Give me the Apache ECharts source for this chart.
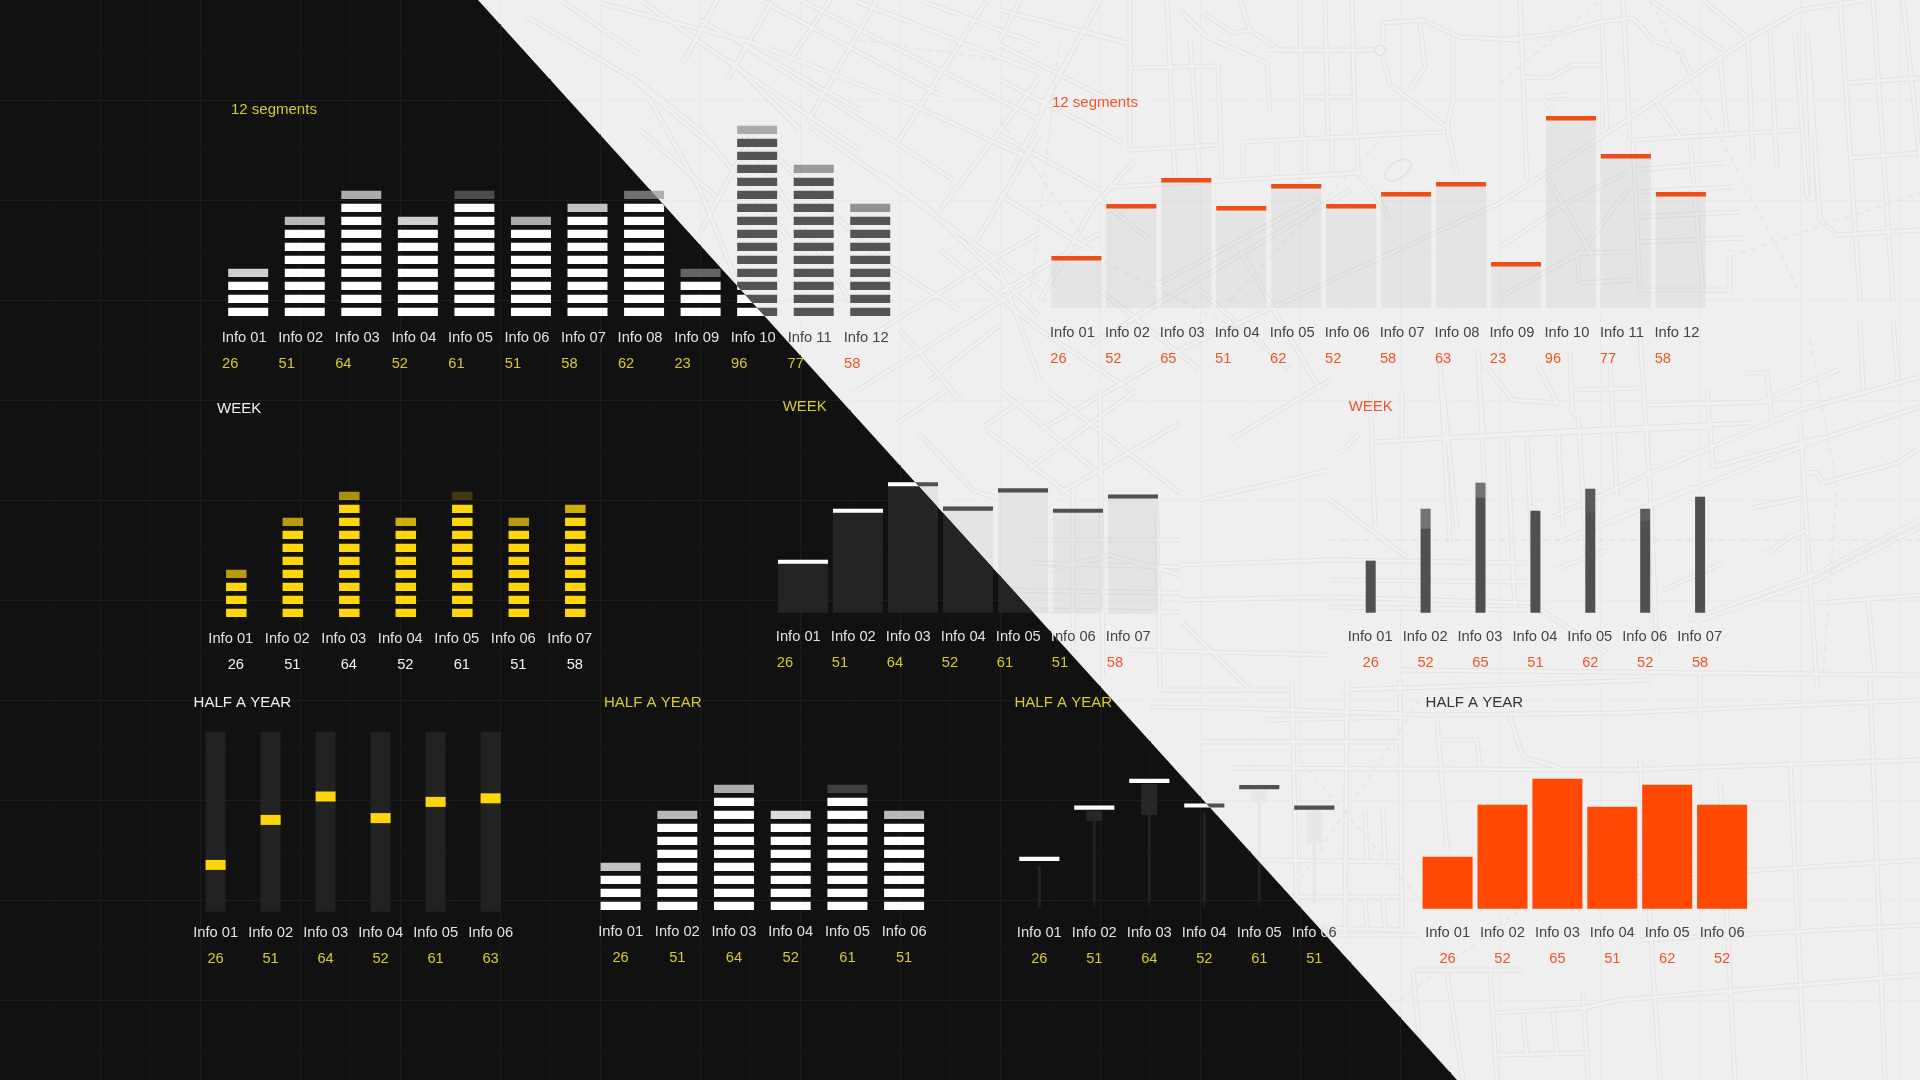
<!DOCTYPE html>
<html><head><meta charset="utf-8">
<style>html,body{margin:0;padding:0;background:#efefef}#c{width:1920px;height:1080px}</style>
<script src="https://cdn.jsdelivr.net/npm/echarts@6/dist/echarts.min.js"></script>
</head><body><div id="c"></div>
<script>
// ---------- data ----------
const labels12 = ['Info 01','Info 02','Info 03','Info 04','Info 05','Info 06','Info 07','Info 08','Info 09','Info 10','Info 11','Info 12'];
const labels7 = labels12.slice(0, 7);
const labels6 = labels12.slice(0, 6);

const darkTwelve   = [26, 51, 64, 52, 61, 51, 58, 62, 23, 96, 77, 58];
const lightTwelve  = [26, 52, 65, 51, 62, 52, 58, 63, 23, 96, 77, 58];
const yellowWeek   = [26, 51, 64, 52, 61, 51, 58];
const splitWeek    = [26, 51, 64, 52, 61, 51, 58];
const thinWeek     = [26, 52, 65, 51, 62, 52, 58];
const markerHalf   = [26, 51, 64, 52, 61, 63];
const whiteHalf    = [26, 51, 64, 52, 61, 51];
const stemHalf     = [26, 51, 64, 52, 61, 51];
const orangeHalf   = [26, 52, 65, 51, 62, 52];

// opacity of the top, partly filled segment of each column
const darkTwelveTop = [.8, .7, .65, .8, .25, .65, .75, .4, .35, .45, .55, .6];
const yellowWeekTop = [.7, .7, .65, .8, .2, .7, .8];
const whiteHalfTop  = [.75, .7, .65, .85, .2, .7];
// length (in value units) and strength of the lighter trailing part of a bar
const thinWeekTrail = [0, 10, 7.5, 0, 12, 6, 0];
const thinWeekTone  = [0, .2, .2, 0, .06, .08, 0];
const stemHalfTrail = [0, 5, 15, 0, 6, 16];

// ---------- scene ----------
const W = 1920, H = 1080;
const EDGE_TOP = 478, EDGE_BOTTOM = 1457;
const edgeX = y => EDGE_TOP + (EDGE_BOTTOM - EDGE_TOP) * y / H;
const DARK_POLY = [[0,0],[EDGE_TOP,0],[EDGE_BOTTOM,H],[0,H]];
const LIGHT_POLY = [[EDGE_TOP,0],[W,0],[W,H],[EDGE_BOTTOM,H]];
const FONT = '"Liberation Sans", Arial, sans-serif';
const YELLOW = '#d9ca2c', RED = '#ee5526', ON_DARK = '#e2e2e2', ON_LIGHT = '#444444', WHITE = '#f2f2f2';

// decorative street map behind the light half
const roads = [
 [527,17,630,77,713,147],[600,3,753,43,917,107,1033,160],[750,50,897,143,953,180],[853,0,1040,73],[920,0,1040,45],
 [810,127,913,200,997,260,1040,290],[880,173,930,210,1040,317],[683,63,717,0],[727,80,773,0],[807,123,877,0],[897,143,987,0],
 [940,210,1040,77],[977,240,1040,133],[700,233,753,133],[880,330,997,257,1040,233],[853,393,1040,277],[640,0,740,70,860,150],
 [630,75,700,130,790,240],[560,0,640,55],[1000,10,1127,43],[1000,80,1123,143],[1000,45,1110,100],[1000,135,1100,190],
 [1000,195,1090,250],[1020,0,1000,40],[1100,0,1060,75,1010,175],[1075,45,1040,110],[1135,160,1093,207,1040,300],
 [700,20,860,110],[760,0,940,95],[800,0,1040,120],[650,100,700,190,740,290],[740,130,850,300],[770,150,880,260,960,310],[940,250,1040,330],[900,330,960,400],[1000,270,1040,380],[730,60,800,130],[640,130,720,200],[790,60,830,0],
 [1130,0,1130,150],[1167,0,1175,180],[1190,40,1200,180],[1218,65,1222,180],[1130,68,1217,66],[1130,150,1220,145],
 [1110,187,1360,173],[1243,142,1443,132],[1243,142,1243,175],[1277,142,1277,175],[1305,140,1305,172],[1332,138,1332,172],[1357,136,1358,173],
 [1267,50,1377,50],[1300,0,1302,137],[1325,0,1328,137],[1352,0,1355,135],[1302,97,1353,97],[1180,10,1207,37,1267,63,1270,113],
 [1203,13,1233,33,1250,30,1240,0],[1250,30,1280,50],[1383,58,1390,85,1447,127,1457,173],[1383,42,1383,23,1423,20,1460,37,1520,40],
 [1453,37,1453,100,1447,127],[1420,23,1425,67,1410,90],[1358,173,1377,197,1390,220],[1160,283,1320,197],[1130,320,1350,190],
 [1090,345,1190,285],[1000,293,1100,233],[1040,430,1180,350,1500,203],[1500,203,1627,120,1747,40,1800,10,1867,0],[1100,290,1200,370],[1200,290,1290,370],
 [1240,250,1320,390],[1100,200,1150,240],
 [1500,40,1560,33,1600,22,1633,18,1653,40,1680,50,1690,72],[1520,0,1527,180],[1523,77,1550,78,1573,65,1600,65],[1602,20,1607,130],
 [1623,0,1630,140],[1633,140,1800,130],[1657,103,1680,137],[1650,0,1723,50],[1703,0,1747,37],[1720,57,1727,133],[1748,40,1753,163],[1770,30,1777,170],
 [1795,33,1807,197,1813,200,1807,30],[1807,30,1820,220,1837,235,1920,230],[1840,0,1860,300],[1873,0,1893,300],[1903,0,1920,160],[1845,83,1920,78],[1850,158,1920,153],
 [1633,170,1723,163],[1637,192,1733,187],[1638,217,1740,212],[1638,242,1743,238],[1633,140,1640,293],[1690,140,1703,293],[1640,290,1730,290],[1730,257,1730,293],
 [1500,247,1567,203,1627,173],[1500,297,1580,253,1630,187],[1547,177,1593,257],[1577,253,1633,252],[1580,283,1633,280],[1577,253,1580,283],[1545,97,1568,95],[1542,97,1553,110],
 [1400,440,1507,435,1710,427],[1440,363,1450,543],[1478,350,1485,500],[1507,437,1515,613],[1527,437,1532,553],[1558,433,1563,527],[1578,413,1590,613],[1610,360,1617,497],[1640,337,1650,487,1657,653],
 [1572,390,1643,388],[1648,405,1770,402],[1707,390,1713,467],[1745,373,1767,373,1772,423],[1760,402,1843,368],[1483,363,1513,400,1557,403,1537,363],[1570,353,1572,410,1578,417],
 [1553,517,1650,473,1800,410,1920,377],[1607,523,1690,490,1827,437,1920,407],[1557,543,1693,487],[1553,570,1607,550],[1713,467,1823,437],[1823,483,1897,463,1920,448],[1803,472,1817,473,1823,483],
 [1690,620,1817,573,1920,520],[1700,620,1817,580,1920,527],[1800,420,1817,687],[1860,320,1863,390],[1893,320,1898,380],[1753,508,1800,498],[1768,553,1790,537,1807,530],[1663,590,1723,563],[1818,603,1920,595],[1868,600,1875,673],[1400,670,1920,675],[1700,673,1700,720],
 [1150,707,1233,708,1433,715,1620,713,1920,700],[1267,720,1400,717],[1200,742,1400,742],[1233,768,1620,770,1920,760],[1263,860,1400,862],[1287,897,1400,897],[1290,927,1400,930],[1292,680,1297,933],[1347,680,1345,933],[1400,680,1402,933],[1437,720,1447,850],
 [1437,740,1477,740,1480,768],[1510,717,1523,757,1560,768],[1365,810,1367,863],[1383,810,1385,863],[1365,897,1367,928],[1383,897,1385,928],[1233,935,1420,935],
 [1413,970,1523,970],[1413,970,1423,1080],[1447,973,1463,1080],[1490,970,1497,1080],[1493,1013,1583,1008,1620,1000,1920,975],[1497,1055,1590,1053],[1523,1015,1527,1055],[1553,1012,1557,1055],[1583,990,1588,1080],
 [1640,760,1660,1080],[1720,780,1735,1080],[1790,760,1805,1080],[1870,680,1885,1080],[1600,880,1920,860],[1640,940,1920,925],
 [897,423,947,390],[983,427,1027,397],[987,430,1067,493],[1000,390,1103,477],[1047,390,1180,493],[1027,470,1137,390],[1060,493,1180,423],[918,433,973,490,993,497],[930,380,1000,325],[1040,330,1130,390],
 [1033,540,1180,540],[1033,563,1180,567],[993,590,1180,593],[1035,610,1180,612],[1073,490,1073,690],[1100,390,1103,677],[1157,513,1160,690],[1050,570,1110,555,1180,575],
 [1373,442,1583,430,1750,423],[1370,390,1375,527],[1402,390,1402,440],[1443,390,1457,530],[1480,390,1483,432],[1330,500,1407,557],[1330,560,1527,563],[1330,580,1527,582],[1330,597,1530,603,1607,653],[1330,607,1527,610],[1340,453,1360,433],
 [1180,600,1330,597],[1180,565,1330,560],[1180,620,1250,690],[1160,690,1290,690],[1130,650,1330,655],[1230,440,1330,380],[1200,500,1330,470],[1340,690,1650,680]
];
const dashedRoads = [
 [1500,83,1597,3],[1650,0,1800,293],[1730,257,1817,227,1920,193],[1810,340,1837,487,1823,673],[1400,540,1920,540],[1330,540,1400,540],[1000,120,1100,260,1240,330],[1230,300,1390,130],
 [1300,760,1420,900],[1420,700,1300,880],[1400,1000,1560,880],[860,40,1000,60],[1060,40,1030,300]
];

function sceneGraphics() {
  const els = [];
  const line = (x1, y1, x2, y2, stroke) => els.push({type:'line', silent:true, shape:{x1, y1, x2, y2}, style:{stroke, lineWidth:1}});
  const toPts = pts => { const out = []; for (let i = 0; i < pts.length; i += 2) out.push([pts[i], pts[i+1]]); return out; };
  for (let x = 50; x < W; x += 50) line(x + .5, 0, x + .5, H, x % 100 ? '#ececec' : '#e9e9e9');
  for (let y = 50; y < H; y += 50) line(0, y + .5, W, y + .5, y % 100 ? '#ececec' : '#e9e9e9');
  roads.forEach(pts => els.push({type:'polyline', silent:true, shape:{points:toPts(pts)}, style:{stroke:'#e3e3e3', lineWidth:5, fill:null, lineJoin:'round'}}));
  roads.forEach(pts => els.push({type:'polyline', silent:true, shape:{points:toPts(pts)}, style:{stroke:'#f0f0f0', lineWidth:3, fill:null, lineJoin:'round'}}));
  dashedRoads.forEach(pts => els.push({type:'polyline', silent:true, shape:{points:toPts(pts)}, style:{stroke:'#e5e5e5', lineWidth:1.5, lineDash:[6,5], fill:null}}));
  els.push({type:'circle', silent:true, shape:{cx:1380, cy:50, r:5}, style:{stroke:'#e3e3e3', lineWidth:2, fill:'#f0f0f0'}});
  els.push({type:'ellipse', silent:true, rotation:.6, x:1398, y:170, shape:{cx:0, cy:0, rx:15, ry:8}, style:{stroke:'#e3e3e3', lineWidth:2, fill:null}});
  els.push({type:'polygon', silent:true, shape:{points:DARK_POLY}, style:{fill:'#111111'}});
  for (let x = 50; x < EDGE_BOTTOM; x += 50) {
    const y0 = x <= EDGE_TOP ? 0 : (x - EDGE_TOP) * H / (EDGE_BOTTOM - EDGE_TOP);
    line(x + .5, y0, x + .5, H, x % 100 ? '#161616' : '#1d1d1d');
  }
  for (let y = 50; y < H; y += 50) line(0, y + .5, edgeX(y), y + .5, y % 100 ? '#161616' : '#1d1d1d');
  return els;
}

// ---------- panel descriptions (layout and style) ----------
const panels = [
 {kind:'segments', labels:labels12, values:darkTwelve, tops:darkTwelveTop, first:248.2, pitch:56.55, base:316, unit:13/6.4, w:.707, dark:'#ffffff', light:'#545454',
  infoY:338, valY:364, infoShift:-4, valShift:-18, infoDark:10, valColors:darkTwelve.map((v,i)=> i<11?YELLOW:RED)},
 {kind:'capped', labels:labels12, values:lightTwelve, first:1076.4, pitch:54.95, base:308, unit:2, w:.91, capH:4.5, dark:'#ffffff', light:'#f04c16',
  infoY:332.5, valY:358.5, infoShift:-4, valShift:-18, infoDark:0, valColors:lightTwelve.map(()=>RED)},
 {kind:'segments', labels:labels7, values:yellowWeek, tops:yellowWeekTop, first:236.3, pitch:56.5, base:617, unit:13/6.4, w:.363, dark:'#ffd60a', light:'#ffd60a',
  infoY:639, valY:665, infoShift:-5.5, valShift:-.5, infoDark:7, valColors:yellowWeek.map(()=>WHITE)},
 {kind:'capped', labels:labels7, values:splitWeek, first:803, pitch:55, base:612.7, unit:2.04, w:.91, capH:4.2, dark:'#ffffff', light:'#505050', trackDark:'#242424',
  infoY:637, valY:662.5, infoShift:-4.7, valShift:-18, infoDark:5, split:{5:1}, valColors:splitWeek.map((v,i)=> i<6?YELLOW:RED)},
 {kind:'thin', labels:labels7, values:thinWeek, trail:thinWeekTrail, tone:thinWeekTone, first:1370.7, pitch:54.9, base:612.7, unit:2, w:.182, light:'#505050',
  infoY:636.5, valY:662.5, infoShift:-.5, valShift:0, infoDark:0, valColors:thinWeek.map(()=>RED)},
 {kind:'marker', labels:labels6, values:markerHalf, first:215.6, pitch:55, base:911.7, unit:1.8, w:.364, capH:10, track:'#222222', dark:'#ffd60a',
  infoY:932.5, valY:958.5, infoShift:0, valShift:0, infoDark:6, valColors:markerHalf.map(()=>YELLOW)},
 {kind:'segments', labels:labels6, values:whiteHalf, tops:whiteHalfTop, first:620.6, pitch:56.7, base:910, unit:13/6.4, w:.705, dark:'#ffffff', light:'#545454',
  infoY:932, valY:958.3, infoShift:0, valShift:0, infoDark:6, valColors:whiteHalf.map(()=>YELLOW)},
 {kind:'lollipop', labels:labels6, values:stemHalf, trail:stemHalfTrail, first:1039.3, pitch:55, base:910, unit:2.05, w:.73, capH:4.2, dark:'#ffffff', light:'#505050',
  infoY:932.5, valY:958.5, infoShift:0, valShift:0, infoDark:5, split:{5:6}, valColors:stemHalf.map(()=>YELLOW)},
 {kind:'bar', labels:labels6, values:orangeHalf, first:1447.6, pitch:54.9, base:908.7, unit:2, w:50, color:'#ff4802',
  infoY:932.5, valY:958.5, infoShift:0, valShift:0, infoDark:0, valColors:orangeHalf.map(()=>RED)}
];

const panelTitles = [
 ['12 segments', 231, 110.5, YELLOW], ['12 segments', 1052, 104, RED],
 ['WEEK', 217, 410.2, '#f0f0f0'], ['WEEK', 782.7, 408, YELLOW], ['WEEK', 1348.7, 408, RED],
 ['HALF A YEAR', 193.6, 704.2, '#f0f0f0'], ['HALF A YEAR', 604, 704.2, YELLOW], ['HALF A YEAR', 1014.5, 704.2, YELLOW], ['HALF A YEAR', 1425.6, 704.2, '#333333']
];

// ---------- marks: everything goes through api.coord / api.size ----------
function sided(shape, darkStyle, lightStyle) {
  const out = [];
  if (darkStyle) out.push({type:'rect', shape, style:darkStyle, clipPath:{type:'polygon', shape:{points:DARK_POLY}}});
  if (lightStyle) out.push({type:'rect', shape, style:lightStyle, clipPath:{type:'polygon', shape:{points:LIGHT_POLY}}});
  return out;
}
const GHOST = 'rgba(176,176,176,.18)';
const fade = c => ({type:'linear', x:0, y:0, x2:0, y2:1, colorStops:[{offset:0, color:c},{offset:.88, color:c},{offset:1, color:c === '#242424' ? '#111111' : '#efefef'}]});

function makeRender(p) {
  return function (params, api) {
    const i = api.value(0), v = api.value(1);
    const cx = api.coord([i, 0])[0], y0 = api.coord([i, 0])[1];
    const band = api.size([1, 0])[0], bw = band * p.w;
    const left = cx - bw / 2;
    const yOf = u => api.coord([i, u])[1];
    let kids = [];
    if (p.kind === 'segments') {
      const step = 6.4, n = Math.round(v / step), h = step * 8.3 / 13;
      for (let k = 0; k < n; k++) {
        const top = yOf((k * step) + h), bottom = yOf(k * step);
        const op = k === n - 1 ? p.tops[i] : 1;
        kids = kids.concat(sided({x:left, y:top, width:bw, height:bottom - top},
          {fill:p.dark, opacity:op}, {fill:p.light, opacity:op}));
      }
    } else if (p.kind === 'capped') {
      const top = yOf(v);
      kids = kids.concat(sided({x:left, y:top, width:bw, height:y0 - top},
        {fill:p.trackDark || '#242424'}, {fill:GHOST}));
      kids = kids.concat(sided({x:left, y:top, width:bw, height:p.capH}, {fill:p.dark}, {fill:p.light}));
    } else if (p.kind === 'thin') {
      const top = yOf(v), t = yOf(v - p.trail[i]);
      kids.push({type:'rect', shape:{x:left, y:top, width:bw, height:y0 - top}, style:{fill:p.light}});
      if (p.trail[i]) kids.push({type:'rect', shape:{x:left, y:top, width:bw, height:t - top}, style:{fill:'#ffffff', opacity:p.tone[i]}});
    } else if (p.kind === 'marker') {
      const top = yOf(100), m = yOf(v);
      kids.push({type:'rect', shape:{x:left, y:top, width:bw, height:y0 - top}, style:{fill:p.track}});
      kids.push({type:'rect', shape:{x:left, y:m - p.capH / 2, width:bw, height:p.capH}, style:{fill:p.dark}});
    } else if (p.kind === 'lollipop') {
      const top = yOf(v), capBottom = top + p.capH;
      const stemTop = capBottom + 5;
      kids = kids.concat(sided({x:cx - 1.5, y:stemTop, width:3, height:y0 - stemTop},
        {fill:fade('#242424')}, {fill:fade('#e6e6e6')}));
      if (p.trail[i]) {
        const t = yOf(v - p.trail[i]) + p.capH;
        kids = kids.concat(sided({x:cx - 8, y:capBottom + 1, width:16, height:t - capBottom},
          {fill:'#272727'}, {fill:'#e7e7e7'}));
      }
      kids = kids.concat(sided({x:left, y:top, width:bw, height:p.capH}, {fill:p.dark}, {fill:p.light}));
    }
    return {type:'group', children:kids};
  };
}

const grids = [], xAxes = [], yAxes = [], series = [];
panels.forEach((p, g) => {
  const n = p.labels.length, height = 100 * p.unit;
  grids.push({left:p.first - p.pitch / 2, width:p.pitch * n, top:p.base - height, height, containLabel:false});
  const pad = s => s < 0 ? [0, -2 * s, 0, 0] : [0, 0, 0, 2 * s];
  const fs = 14.7;
  xAxes.push({
    type:'category', gridIndex:g, data:p.labels, position:'bottom', z:6,
    axisLine:{show:false}, axisTick:{show:false}, splitLine:{show:false},
    axisLabel:{
      interval:0, hideOverlap:false, margin:p.infoY - p.base - 7.5, padding:pad(p.infoShift),
      formatter:(val, i) => {
        if (p.split && p.split[i] !== undefined) return '{d|' + val.slice(0, p.split[i]) + '}{l|' + val.slice(p.split[i]) + '}';
        return i < p.infoDark ? '{d|' + val + '}' : '{l|' + val + '}';
      },
      rich:{
        d:{color:ON_DARK, fontSize:fs, fontFamily:FONT},
        l:{color:ON_LIGHT, fontSize:fs, fontFamily:FONT}
      }
    }
  });
  xAxes.push({
    type:'category', gridIndex:g, data:p.values.map(String), position:'bottom', offset:p.valY - p.infoY, z:6,
    axisLine:{show:false}, axisTick:{show:false}, splitLine:{show:false},
    axisLabel:{
      interval:0, hideOverlap:false, margin:p.infoY - p.base - 7.5, padding:pad(p.valShift),
      fontSize:fs, fontFamily:FONT, color:(val, i) => p.valColors[i]
    }
  });
  yAxes.push({type:'value', gridIndex:g, min:0, max:100, show:false});
  const xi = g * 2;
  if (p.kind === 'bar') {
    series.push({type:'bar', xAxisIndex:xi, yAxisIndex:g, data:p.values, barWidth:p.w,
      itemStyle:{color:p.color}, animation:false, silent:true});
  } else {
    series.push({type:'custom', xAxisIndex:xi, yAxisIndex:g, data:p.values.map((v, i) => [i, v]),
      encode:{x:0, y:1}, renderItem:makeRender(p), animation:false, silent:true, clip:false});
  }
});

const chart = echarts.init(document.getElementById('c'), null, {renderer:'canvas', width:W, height:H});
chart.setOption({
  animation:false,
  backgroundColor:'#efefef',
  textStyle:{fontFamily:FONT},
  title:panelTitles.map(t => ({text:t[0], left:t[1], top:t[2] - 8.5, padding:0, z:6,
    textStyle:{color:t[3], fontSize:15, fontWeight:'normal', fontFamily:FONT}})),
  tooltip:{show:false},
  graphic:{elements:sceneGraphics()},
  grid:grids, xAxis:xAxes, yAxis:yAxes, series
});
</script></body></html>
